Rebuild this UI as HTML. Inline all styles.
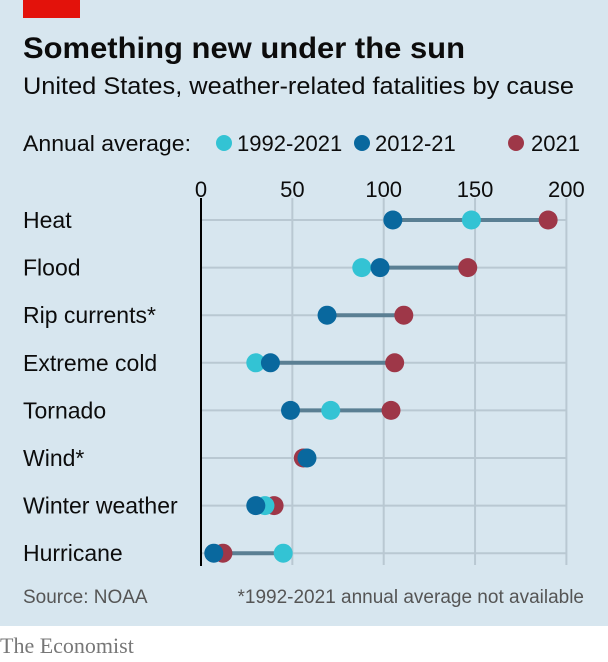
<!DOCTYPE html>
<html><head><meta charset="utf-8"><style>
body{margin:0;width:608px;height:662px;background:#fff;font-family:"Liberation Sans",sans-serif;overflow:hidden}
#panel{position:absolute;left:0;top:0;width:608px;height:626px;background:#d7e6ef}
</style></head><body>
<div id="panel"></div>
<svg width="608" height="662" style="position:absolute;left:0;top:0" id="chart">
<rect x="23" y="0" width="57" height="18" fill="#e3120b"/>
<text x="23" y="58" font-size="30" font-weight="bold" fill="#0c0c0c" textLength="442" lengthAdjust="spacingAndGlyphs">Something new under the sun</text>
<text x="23" y="94" font-size="24" fill="#0c0c0c" textLength="551" lengthAdjust="spacingAndGlyphs">United States, weather-related fatalities by cause</text>
<g font-size="22" fill="#0c0c0c">
<text x="23" y="151" textLength="168" lengthAdjust="spacingAndGlyphs">Annual average:</text>
<circle cx="224" cy="143" r="8" fill="#33c3d4"/>
<text x="237" y="151">1992-2021</text>
<circle cx="362" cy="143" r="8" fill="#09689e"/>
<text x="375" y="151">2012-21</text>
<circle cx="516" cy="143" r="8" fill="#9e3748"/>
<text x="531" y="151">2021</text>
</g>
<g id="plot"></g>
<text x="23" y="603" font-size="19" fill="#555">Source: NOAA</text>
<text x="584" y="603" font-size="19" fill="#555" text-anchor="end">*1992-2021 annual average not available</text>
<text x="0" y="653" font-size="22" fill="#777" font-family="Liberation Serif,serif">The Economist</text>
</svg>
<script>
const categories=["Heat","Flood","Rip currents*","Extreme cold","Tornado","Wind*","Winter weather","Hurricane"];
const avg1992=[148,88,null,30,71,null,35,45];
const avg2012=[105,98,69,38,49,58,30,7];
const val2021=[190,146,111,106,104,56,40,12];
const ticks=[0,50,100,150,200];
const NS="http://www.w3.org/2000/svg";
const g=document.getElementById('plot');
const x=v=>201+v*1.827;
const y=i=>220+i*47.6;
function mk(t,a){const e=document.createElementNS(NS,t);for(const k in a)e.setAttribute(k,a[k]);g.appendChild(e);return e;}
ticks.forEach(t=>{
 const l=mk('line',{x1:x(t),x2:x(t),y1:198,y2:565,stroke:'#b9c8d2','stroke-width':2});
 
 
 const tx=mk('text',{x:x(t),y:197,'font-size':22,'text-anchor':'middle',fill:'#0c0c0c'});
 tx.textContent=t;
 
 
});
categories.forEach((c,i)=>{
 const yy=y(i);
 const hl=mk('line',{x1:201,x2:x(200),y1:yy,y2:yy,stroke:'#b9c8d2','stroke-width':2});
 
 
 const lb=mk('text',{x:23,y:yy+8,'font-size':23,fill:'#0c0c0c'});
 lb.textContent=c;
 
 
 const vals=[avg1992[i],avg2012[i],val2021[i]].filter(v=>v!=null);
 const cl=mk('line',{x1:x(Math.min(...vals)),x2:x(Math.max(...vals)),y1:yy,y2:yy,stroke:'#5a7f93','stroke-width':4});
 
 
});
const series=[[avg1992,'#33c3d4','dot-1992-2021'],[avg2012,'#09689e','dot-2012-21'],[val2021,'#9e3748','dot-2021']];
[val2021,avg1992,avg2012].forEach(arr=>{
 const s=series.find(s=>s[0]===arr);
 arr.forEach((v,i)=>{
  if(v==null)return;
  const d=mk('circle',{cx:x(v),cy:y(i),r:9.5,fill:s[1]});
  
  
 });
});
const ax=mk('line',{x1:201,x2:201,y1:198,y2:566,stroke:'#000','stroke-width':2});


</script>
</body></html>
